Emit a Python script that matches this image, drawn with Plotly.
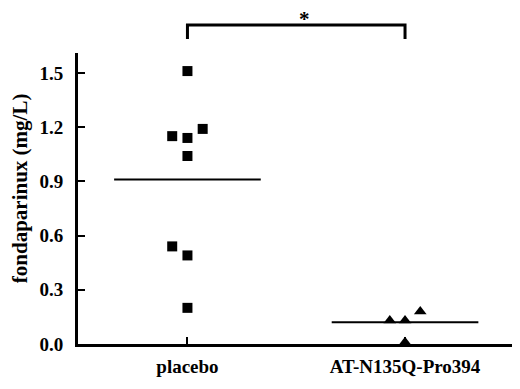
import plotly.graph_objects as go

categories = ["placebo", "AT-N135Q-Pro394"]
placebo_values = [1.51, 1.15, 1.14, 1.19, 1.04, 0.54, 0.49, 0.20]
placebo_jitter = [0, -0.07, 0, 0.07, 0, -0.07, 0, 0]
at_values = [0.13, 0.13, 0.18, 0.01]
at_jitter = [-0.07, 0, 0.07, 0]
group_means = [0.91, 0.12]
y_ticks = [0.0, 0.3, 0.6, 0.9, 1.2, 1.5]
y_ticklabels = ["0.0", "0.3", "0.6", "0.9", "1.2", "1.5"]
y_title = "fondaparinux (mg/L)"

FONT = "Liberation Serif"

fig = go.Figure()

fig.add_trace(go.Scatter(
    x=[0 + j for j in placebo_jitter], y=placebo_values, mode="markers",
    marker=dict(symbol="square", size=10, color="black"),
    cliponaxis=False, showlegend=False))
fig.add_trace(go.Scatter(
    x=[1 + j for j in at_jitter], y=at_values, mode="markers",
    marker=dict(symbol="triangle-up", size=11, color="black"),
    cliponaxis=False, showlegend=False))

half = 0.337
for i, m in enumerate(group_means):
    fig.add_shape(type="line", xref="x", yref="y", x0=i - half, x1=i + half,
                  y0=m, y1=m, line=dict(color="black", width=2))

# significance bracket
fig.add_shape(type="path", xref="x", yref="paper",
              path="M 0,1.048 L 0,1.096 L 1,1.096 L 1,1.048",
              line=dict(color="black", width=3))
fig.add_annotation(x=0.536, y=1.118, xref="x", yref="paper", text="<b>*</b>",
                   showarrow=False, font=dict(family=FONT, size=21, color="black"),
                   yanchor="middle")

# y-axis title
fig.add_annotation(x=-0.132, y=0.536, xref="paper", yref="paper",
                   text="<b>%s</b>" % y_title, textangle=-90, showarrow=False,
                   xanchor="center", yanchor="middle",
                   font=dict(family=FONT, size=21, color="black"))

fig.update_layout(
    width=512, height=381,
    margin=dict(l=70, r=4, t=45, b=45),
    paper_bgcolor="white", plot_bgcolor="white",
    font=dict(family=FONT, color="black"),
    xaxis=dict(
        range=[-0.503, 1.51], tickmode="array", tickvals=[0, 1],
        ticktext=["<b>%s</b>" % c for c in categories],
        showline=True, linecolor="black", linewidth=3,
        ticks="inside", ticklen=7, tickwidth=2, tickcolor="black",
        showgrid=False, zeroline=False,
        tickfont=dict(family=FONT, size=19, color="black"),
        ticklabelstandoff=3,
    ),
    yaxis=dict(
        range=[0, 1.61], tickmode="array", tickvals=y_ticks,
        ticktext=["<b>%s</b>" % t for t in y_ticklabels],
        showline=True, linecolor="black", linewidth=3,
        ticks="inside", ticklen=7, tickwidth=2, tickcolor="black",
        showgrid=False, zeroline=False,
        tickfont=dict(family=FONT, size=19, color="black"),
        ticklabelstandoff=8,
    ),
)

fig.write_html("out.html")
